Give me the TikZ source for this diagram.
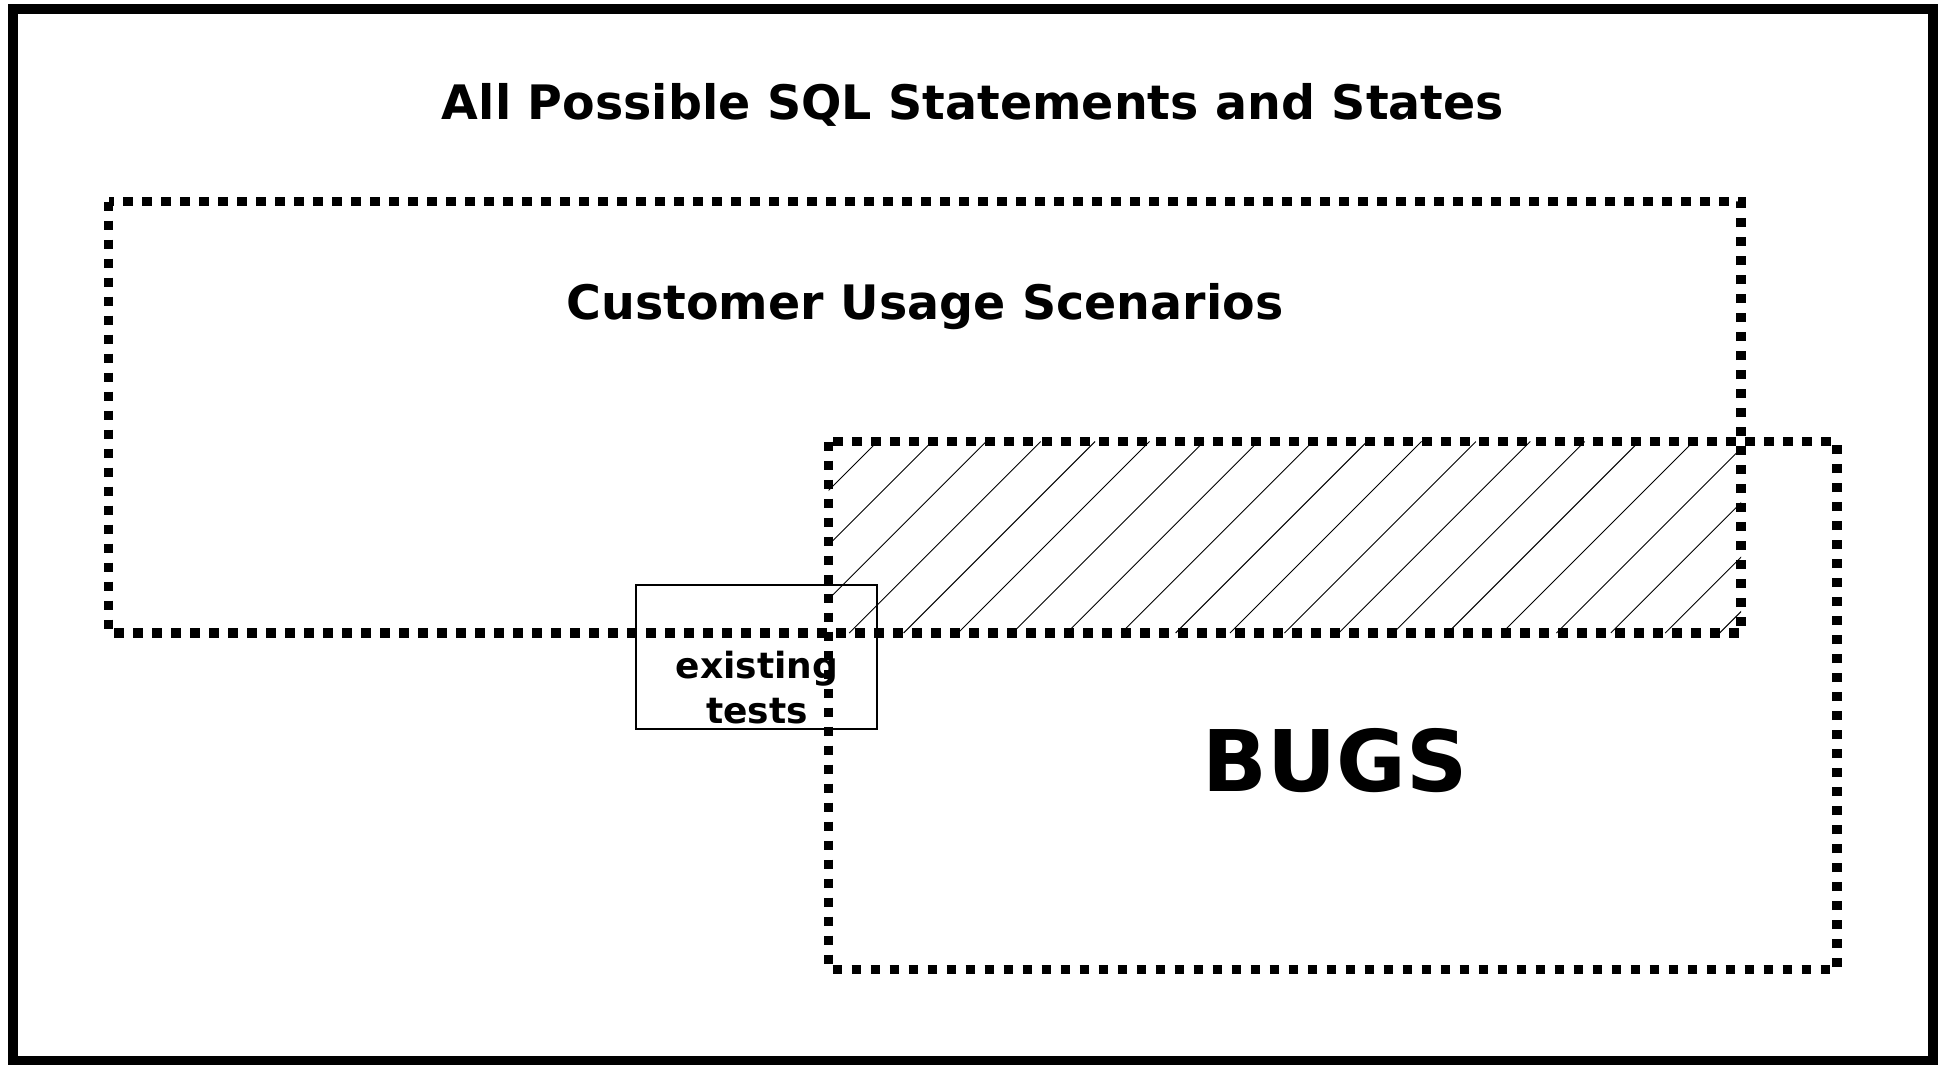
\documentclass[tikz,border=0pt]{standalone}
\usepackage{fontspec}
\setmainfont{DejaVu Sans}

\begin{document}
\begin{tikzpicture}[x=1pt,y=-1pt,
  frame/.style={line width=10pt},
  dots/.style={line width=9.5pt, dash pattern=on 9.5pt off 9.5pt},
  hatch/.style={line width=0.9pt},
  caption/.style={font=\fontsize{47.5}{57}\selectfont\bfseries, inner sep=0pt},
  big/.style={font=\fontsize{85}{100}\selectfont\bfseries, inner sep=0pt},
  small/.style={font=\fontsize{36}{45}\selectfont\bfseries, inner sep=0pt, align=center}]

\useasboundingbox (0,0) rectangle (1944,1065);

% corners of the two dotted areas
\def \cxa{108.5}  \def \cya{201.5}
\def \cxb{1741}   \def \cyb{633}
\def \bxa{828.5}  \def \bya{441.5}
\def \bxb{1837}   \def \byb{969.5}

\draw[frame] (12.5,9) rectangle (1932.5,1061);

\node[caption, anchor=base] (all) at (973,119) {All Possible SQL Statements and States};
\node[caption, anchor=base] (usage) at (925,319) {Customer Usage Scenarios};
\node[big, anchor=base] (bugs) at (1335,791) {BUGS};

% overlap of usage and bugs
\begin{scope}
  \clip (\bxa,\bya) rectangle (\cxb,\cyb);
  \foreach \k in {0,...,19}
    \draw[hatch] ({1319+54.4*\k-\cyb},\cyb) -- ({1319+54.4*\k-\bya},\bya);
\end{scope}

\node[draw, line width=1.2pt, minimum width=241pt, minimum height=144pt] (tests) at (756.5,657) {};
\node[small, anchor=base] (testlabel) at (757,723) {existing\\tests};

\draw[dots] (\cxa,\cya) rectangle (\cxb,\cyb);
\draw[dots] (\bxa,\bya) rectangle (\bxb,\byb);

\end{tikzpicture}
\end{document}
